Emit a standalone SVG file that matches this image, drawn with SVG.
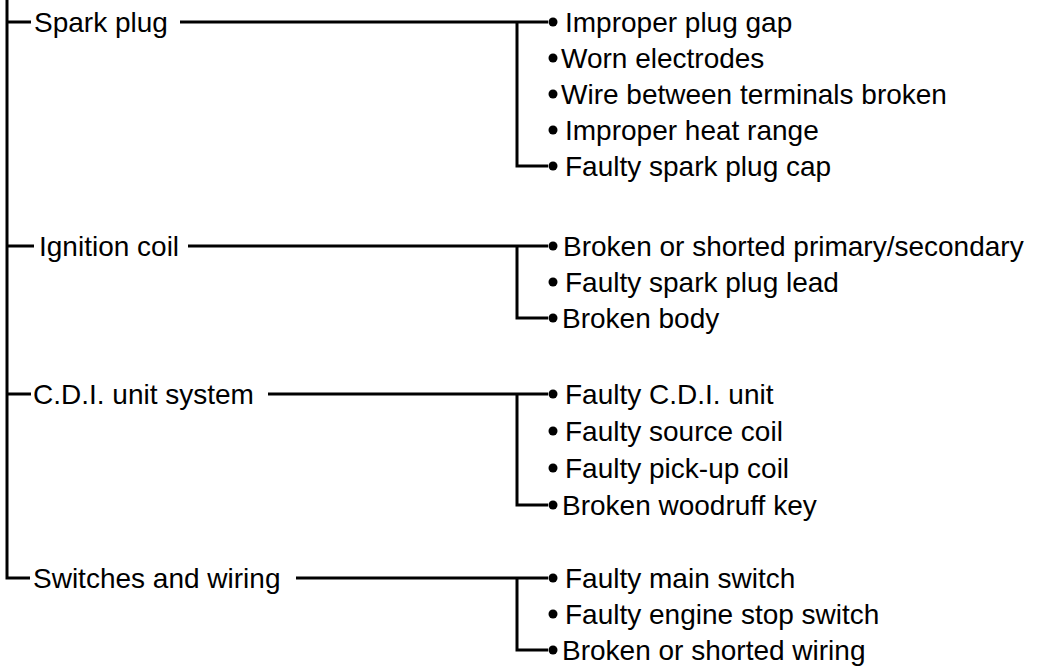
<svg xmlns="http://www.w3.org/2000/svg" width="1040" height="670" viewBox="0 0 1040 670">
<style>
.t{font-family:"Liberation Sans",Arial,sans-serif;font-size:28px;fill:#000}
.ln{stroke:#000;stroke-width:3;fill:none;stroke-linecap:butt}
.d{fill:#000}
</style>
<rect width="1040" height="670" fill="#fff"/>
<g id="connectors">
<path class="ln" d="M7,0 V578 H30"/>
<path class="ln" d="M7,22 H31 M7,246 H34 M7,394 H31"/>
<path class="ln" d="M180,22 H548 M517,22 V166 H548"/>
<path class="ln" d="M188,246 H548 M517,246 V318 H548"/>
<path class="ln" d="M268,394 H548 M517,394 V505 H548"/>
<path class="ln" d="M296,578 H548 M517,578 V650 H548"/>
</g>
<g id="spark-plug"><text class="t" x="34" y="32">Spark plug</text></g>
<g id="ignition-coil"><text class="t" x="39" y="256">Ignition coil</text></g>
<g id="cdi"><text class="t" x="33" y="404">C.D.I. unit system</text></g>
<g id="switches"><text class="t" x="33" y="588">Switches and wiring</text></g>
<g id="spark-items">
<circle class="d" cx="553" cy="22" r="4.5"/><text class="t" x="565" y="32">Improper plug gap</text>
<circle class="d" cx="553" cy="58" r="4.5"/><text class="t" x="561" y="68">Worn electrodes</text>
<circle class="d" cx="553" cy="94" r="4.5"/><text class="t" x="561" y="104">Wire between terminals broken</text>
<circle class="d" cx="553" cy="130" r="4.5"/><text class="t" x="565" y="140">Improper heat range</text>
<circle class="d" cx="553" cy="166" r="4.5"/><text class="t" x="565" y="176">Faulty spark plug cap</text>
</g>
<g id="ignition-items">
<circle class="d" cx="553" cy="246" r="4.5"/><text class="t" x="563" y="256">Broken or shorted primary/secondary</text>
<circle class="d" cx="553" cy="282" r="4.5"/><text class="t" x="565" y="292">Faulty spark plug lead</text>
<circle class="d" cx="553" cy="318" r="4.5"/><text class="t" x="562" y="328">Broken body</text>
</g>
<g id="cdi-items">
<circle class="d" cx="553" cy="394" r="4.5"/><text class="t" x="565" y="404">Faulty C.D.I. unit</text>
<circle class="d" cx="553" cy="431" r="4.5"/><text class="t" x="565" y="441">Faulty source coil</text>
<circle class="d" cx="553" cy="468" r="4.5"/><text class="t" x="565" y="478">Faulty pick-up coil</text>
<circle class="d" cx="553" cy="505" r="4.5"/><text class="t" x="562" y="515">Broken woodruff key</text>
</g>
<g id="switch-items">
<circle class="d" cx="553" cy="578" r="4.5"/><text class="t" x="565" y="588">Faulty main switch</text>
<circle class="d" cx="553" cy="614" r="4.5"/><text class="t" x="565" y="624">Faulty engine stop switch</text>
<circle class="d" cx="553" cy="650" r="4.5"/><text class="t" x="562" y="660">Broken or shorted wiring</text>
</g>
</svg>
